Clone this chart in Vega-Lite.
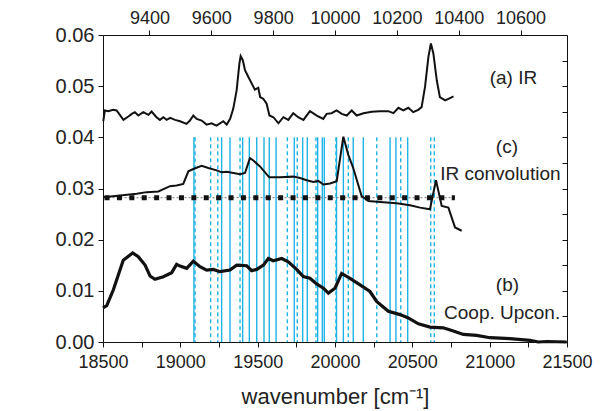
{
  "$schema": "https://vega.github.io/schema/vega-lite/v6.json",
  "width": 464,
  "height": 307,
  "autosize": {"type": "none"},
  "padding": {"left": 103, "top": 35, "right": 44, "bottom": 69},
  "background": "white",
  "config": {
    "view": {"stroke": null},
    "font": "Liberation Sans",
    "axis": {
      "domainColor": "#111",
      "tickColor": "#111",
      "labelColor": "#222",
      "titleColor": "#222",
      "labelFont": "Liberation Sans",
      "titleFont": "Liberation Sans",
      "labelFontSize": 18,
      "titleFontSize": 18,
      "titleFontWeight": "normal",
      "labelFlush": false,
      "labelOverlap": false,
      "grid": false,
      "domainWidth": 1,
      "tickWidth": 1
    },
    "axisLeft": {
      "title": "Cooperative upcon emission [a.u]",
      "titleFontSize": 19,
      "values": [0, 0.005, 0.01, 0.015, 0.02, 0.025, 0.03, 0.035, 0.04, 0.045, 0.05, 0.055, 0.06],
      "format": ".2f",
      "labelFontSize": 20,
      "labelExpr": "round(datum.value * 1000) % 10 === 0 ? datum.label : ''",
      "tickSize": 5,
      "labelPadding": 4,
      "titlePadding": 22
    }
  },
  "datasets": {
    "conv": [
      {"w": 18502, "v": 0.0283}, {"w": 18718, "v": 0.02897}, {"w": 18782, "v": 0.02929}, {"w": 18858, "v": 0.02942},
      {"w": 18933, "v": 0.03045}, {"w": 18976, "v": 0.03058}, {"w": 19019, "v": 0.0309}, {"w": 19052, "v": 0.03335},
      {"w": 19084, "v": 0.03381}, {"w": 19138, "v": 0.03445}, {"w": 19181, "v": 0.034}, {"w": 19235, "v": 0.03355},
      {"w": 19267, "v": 0.03316}, {"w": 19300, "v": 0.03329}, {"w": 19343, "v": 0.03303}, {"w": 19386, "v": 0.03277},
      {"w": 19418, "v": 0.03303}, {"w": 19450, "v": 0.03594}, {"w": 19472, "v": 0.03548}, {"w": 19515, "v": 0.03432},
      {"w": 19575, "v": 0.03219}, {"w": 19644, "v": 0.03219}, {"w": 19731, "v": 0.03232}, {"w": 19774, "v": 0.03206},
      {"w": 19817, "v": 0.03161}, {"w": 19860, "v": 0.03129}, {"w": 19892, "v": 0.03148}, {"w": 19925, "v": 0.03077},
      {"w": 19968, "v": 0.03097}, {"w": 20011, "v": 0.03142}, {"w": 20054, "v": 0.04013}, {"w": 20086, "v": 0.03658},
      {"w": 20118, "v": 0.034}, {"w": 20172, "v": 0.02852}, {"w": 20216, "v": 0.02755}, {"w": 20291, "v": 0.02735},
      {"w": 20399, "v": 0.0271}, {"w": 20485, "v": 0.02671}, {"w": 20550, "v": 0.02626}, {"w": 20614, "v": 0.02594},
      {"w": 20653, "v": 0.03161}, {"w": 20690, "v": 0.02658}, {"w": 20733, "v": 0.02626}, {"w": 20776, "v": 0.02239},
      {"w": 20819, "v": 0.02174}
    ],
    "coop": [
      {"w": 18500, "v": 0.00665}, {"w": 18524, "v": 0.0071}, {"w": 18567, "v": 0.0102}, {"w": 18631, "v": 0.016},
      {"w": 18692, "v": 0.0174}, {"w": 18728, "v": 0.01665}, {"w": 18772, "v": 0.01503}, {"w": 18804, "v": 0.0129},
      {"w": 18836, "v": 0.01226}, {"w": 18890, "v": 0.01277}, {"w": 18944, "v": 0.01355}, {"w": 18976, "v": 0.01516},
      {"w": 18998, "v": 0.01484}, {"w": 19041, "v": 0.01439}, {"w": 19084, "v": 0.01581}, {"w": 19127, "v": 0.01471},
      {"w": 19170, "v": 0.01406}, {"w": 19213, "v": 0.01419}, {"w": 19256, "v": 0.01374}, {"w": 19321, "v": 0.01406},
      {"w": 19364, "v": 0.01503}, {"w": 19429, "v": 0.0149}, {"w": 19461, "v": 0.01394}, {"w": 19494, "v": 0.01419},
      {"w": 19537, "v": 0.01503}, {"w": 19569, "v": 0.01632}, {"w": 19601, "v": 0.01587}, {"w": 19655, "v": 0.01632},
      {"w": 19698, "v": 0.01568}, {"w": 19752, "v": 0.01419}, {"w": 19795, "v": 0.01277}, {"w": 19838, "v": 0.01245},
      {"w": 19881, "v": 0.01135}, {"w": 19925, "v": 0.01052}, {"w": 19957, "v": 0.00955}, {"w": 20000, "v": 0.01052},
      {"w": 20043, "v": 0.0134}, {"w": 20097, "v": 0.01245}, {"w": 20162, "v": 0.01116}, {"w": 20226, "v": 0.00987},
      {"w": 20269, "v": 0.00794}, {"w": 20345, "v": 0.006}, {"w": 20420, "v": 0.00535}, {"w": 20474, "v": 0.00471},
      {"w": 20539, "v": 0.00355}, {"w": 20614, "v": 0.0029}, {"w": 20700, "v": 0.00277}, {"w": 20765, "v": 0.00213},
      {"w": 20830, "v": 0.00148}, {"w": 20916, "v": 0.00129}, {"w": 21002, "v": 0.00084}, {"w": 21131, "v": 0.00065},
      {"w": 21261, "v": 0.00032}, {"w": 21315, "v": 0.0}, {"w": 21369, "v": 0.0001}, {"w": 21498, "v": 0.0}
    ],
    "ir": [
      {"ir": 9251, "v": 0.04315}, {"ir": 9256, "v": 0.04525}, {"ir": 9267, "v": 0.04511}, {"ir": 9283, "v": 0.04538},
      {"ir": 9294, "v": 0.04525}, {"ir": 9316, "v": 0.04341}, {"ir": 9332, "v": 0.04407}, {"ir": 9343, "v": 0.04459},
      {"ir": 9353, "v": 0.04492}, {"ir": 9364, "v": 0.04426}, {"ir": 9380, "v": 0.04492}, {"ir": 9397, "v": 0.04439},
      {"ir": 9407, "v": 0.04505}, {"ir": 9423, "v": 0.04393}, {"ir": 9434, "v": 0.04341}, {"ir": 9445, "v": 0.04393},
      {"ir": 9456, "v": 0.04341}, {"ir": 9467, "v": 0.0438}, {"ir": 9483, "v": 0.04341}, {"ir": 9499, "v": 0.04315},
      {"ir": 9520, "v": 0.04262}, {"ir": 9531, "v": 0.04328}, {"ir": 9542, "v": 0.04426}, {"ir": 9553, "v": 0.04361},
      {"ir": 9569, "v": 0.04328}, {"ir": 9585, "v": 0.04249}, {"ir": 9601, "v": 0.04275}, {"ir": 9617, "v": 0.0423},
      {"ir": 9639, "v": 0.04315}, {"ir": 9650, "v": 0.04249}, {"ir": 9661, "v": 0.04361}, {"ir": 9671, "v": 0.04557},
      {"ir": 9682, "v": 0.04918}, {"ir": 9691, "v": 0.05443}, {"ir": 9695, "v": 0.05587}, {"ir": 9702, "v": 0.05508},
      {"ir": 9709, "v": 0.05311}, {"ir": 9720, "v": 0.0518}, {"ir": 9731, "v": 0.05049}, {"ir": 9741, "v": 0.04931},
      {"ir": 9752, "v": 0.0497}, {"ir": 9758, "v": 0.04787}, {"ir": 9768, "v": 0.04754}, {"ir": 9779, "v": 0.04656},
      {"ir": 9788, "v": 0.04426}, {"ir": 9801, "v": 0.04393}, {"ir": 9817, "v": 0.04275}, {"ir": 9833, "v": 0.04393},
      {"ir": 9849, "v": 0.04341}, {"ir": 9865, "v": 0.04472}, {"ir": 9881, "v": 0.04393}, {"ir": 9898, "v": 0.04341},
      {"ir": 9919, "v": 0.04511}, {"ir": 9941, "v": 0.04426}, {"ir": 9962, "v": 0.04361}, {"ir": 9973, "v": 0.04459},
      {"ir": 9989, "v": 0.04472}, {"ir": 10005, "v": 0.04525}, {"ir": 10022, "v": 0.04459}, {"ir": 10038, "v": 0.04426},
      {"ir": 10054, "v": 0.04525}, {"ir": 10070, "v": 0.04426}, {"ir": 10092, "v": 0.04472}, {"ir": 10119, "v": 0.04498},
      {"ir": 10145, "v": 0.04511}, {"ir": 10172, "v": 0.04511}, {"ir": 10189, "v": 0.04472}, {"ir": 10205, "v": 0.04577},
      {"ir": 10221, "v": 0.04525}, {"ir": 10237, "v": 0.04577}, {"ir": 10253, "v": 0.04492}, {"ir": 10269, "v": 0.04538},
      {"ir": 10280, "v": 0.0459}, {"ir": 10291, "v": 0.04984}, {"ir": 10302, "v": 0.05574}, {"ir": 10310, "v": 0.05836},
      {"ir": 10318, "v": 0.05639}, {"ir": 10329, "v": 0.05115}, {"ir": 10339, "v": 0.04787}, {"ir": 10356, "v": 0.04721},
      {"ir": 10372, "v": 0.04767}, {"ir": 10383, "v": 0.048}
    ],
    "lines": [
      {"w": 19088, "kind": "solid"}, {"w": 19095, "kind": "dashed"}, {"w": 19196, "kind": "dashed"}, {"w": 19242, "kind": "dashed"},
      {"w": 19267, "kind": "solid"}, {"w": 19321, "kind": "solid"}, {"w": 19386, "kind": "dashed"}, {"w": 19403, "kind": "solid"},
      {"w": 19446, "kind": "solid"}, {"w": 19494, "kind": "solid"}, {"w": 19541, "kind": "solid"}, {"w": 19575, "kind": "solid"},
      {"w": 19619, "kind": "solid"}, {"w": 19692, "kind": "dashed"}, {"w": 19737, "kind": "solid"}, {"w": 19756, "kind": "dashed"},
      {"w": 19791, "kind": "solid"}, {"w": 19821, "kind": "solid"}, {"w": 19877, "kind": "dashed"}, {"w": 19888, "kind": "solid"},
      {"w": 19918, "kind": "solid"}, {"w": 19931, "kind": "solid"}, {"w": 20006, "kind": "dashed"}, {"w": 20010, "kind": "solid"},
      {"w": 20054, "kind": "solid"}, {"w": 20086, "kind": "dashed"}, {"w": 20118, "kind": "solid"}, {"w": 20183, "kind": "solid"},
      {"w": 20270, "kind": "dashed"}, {"w": 20356, "kind": "solid"}, {"w": 20394, "kind": "solid"}, {"w": 20425, "kind": "dashed"},
      {"w": 20470, "kind": "solid"}, {"w": 20619, "kind": "dashed"}, {"w": 20642, "kind": "dashed"}
    ],
    "threshold": [{"w": 18510, "w2": 20775, "v": 0.0282}],
    "labels": [
      {"w": 21000, "v": 0.0516, "text": "(a) IR"},
      {"w": 21040, "v": 0.0382, "text": "(c)"},
      {"w": 20680, "v": 0.0329, "text": "IR convolution"},
      {"w": 21040, "v": 0.0112, "text": "(b)"},
      {"w": 20705, "v": 0.0057, "text": "Coop. Upcon."}
    ]
  },
  "layer": [
    {
      "encoding": {
        "x": {
          "field": "w", "type": "quantitative",
          "scale": {"domain": [18500, 21500], "nice": false, "zero": false},
          "axis": {
            "orient": "bottom",
            "title": "wavenumber [cm⁻¹]",
            "titleFontSize": 22,
            "values": [18500, 18750, 19000, 19250, 19500, 19750, 20000, 20250, 20500, 20750, 21000, 21250, 21500],
            "format": "d",
            "labelExpr": "datum.value % 500 === 0 ? datum.label : ''",
            "tickSize": 5,
            "labelPadding": 6,
            "titlePadding": 15
          }
        }
      },
      "layer": [
        {
          "data": {"name": "lines"},
          "transform": [{"filter": "datum.kind === 'solid'"}],
          "mark": {"type": "rule", "color": "#1db3e6", "strokeWidth": 1.4},
          "encoding": {
            "y": {"datum": 0.04, "type": "quantitative", "scale": {"domain": [0, 0.06], "nice": false, "zero": false}, "axis": {"orient": "left"}},
            "y2": {"datum": 0}
          }
        },
        {
          "data": {"name": "lines"},
          "transform": [{"filter": "datum.kind === 'dashed'"}],
          "mark": {"type": "rule", "color": "#1db3e6", "strokeWidth": 1.4, "strokeDash": [4, 3]},
          "encoding": {
            "y": {"datum": 0.04, "type": "quantitative", "scale": {"domain": [0, 0.06], "nice": false, "zero": false}, "axis": {"orient": "left"}},
            "y2": {"datum": 0}
          }
        },
        {
          "data": {"name": "threshold"},
          "mark": {"type": "rule", "color": "#777", "strokeWidth": 1, "strokeDash": [2, 2]},
          "encoding": {
            "x2": {"field": "w2"},
            "y": {"field": "v", "type": "quantitative", "scale": {"domain": [0, 0.06], "nice": false, "zero": false}, "axis": {"orient": "left"}}
          }
        },
        {
          "data": {"name": "threshold"},
          "mark": {"type": "rule", "color": "#111", "strokeWidth": 5, "strokeDash": [5, 7.4]},
          "encoding": {
            "x2": {"field": "w2"},
            "y": {"field": "v", "type": "quantitative", "scale": {"domain": [0, 0.06], "nice": false, "zero": false}, "axis": {"orient": "left"}}
          }
        },
        {
          "data": {"name": "conv"},
          "mark": {"type": "line", "color": "#111", "strokeWidth": 2},
          "encoding": {
            "y": {"field": "v", "type": "quantitative", "scale": {"domain": [0, 0.06], "nice": false, "zero": false}, "axis": {"orient": "left"}}
          }
        },
        {
          "data": {"name": "coop"},
          "mark": {"type": "line", "color": "#111", "strokeWidth": 3.2},
          "encoding": {
            "y": {"field": "v", "type": "quantitative", "scale": {"domain": [0, 0.06], "nice": false, "zero": false}, "axis": {"orient": "left"}}
          }
        },
        {
          "data": {"name": "labels"},
          "mark": {"type": "text", "align": "left", "baseline": "middle", "fontSize": 19, "font": "Liberation Sans", "color": "#222"},
          "encoding": {
            "y": {"field": "v", "type": "quantitative", "scale": {"domain": [0, 0.06], "nice": false, "zero": false}, "axis": {"orient": "left"}},
            "text": {"field": "text"}
          }
        }
      ],
      "resolve": {"scale": {"x": "shared", "y": "shared"}, "axis": {"x": "shared", "y": "shared"}}
    },
    {
      "data": {"name": "ir"},
      "mark": {"type": "line", "color": "#111", "strokeWidth": 2},
      "encoding": {
        "x": {
          "field": "ir", "type": "quantitative",
          "scale": {"domain": [9250, 10750], "nice": false, "zero": false},
          "axis": {
            "orient": "top",
            "title": null,
            "values": [9400, 9600, 9800, 10000, 10200, 10400, 10600],
            "format": "d",
            "tickSize": 5,
            "labelPadding": 3
          }
        },
        "y": {
          "field": "v", "type": "quantitative",
          "scale": {"domain": [0, 0.06], "nice": false, "zero": false},
          "axis": {
            "orient": "right",
            "title": null,
            "labels": false,
            "values": [0, 0.005, 0.01, 0.015, 0.02, 0.025, 0.03, 0.035, 0.04, 0.045, 0.05, 0.055, 0.06],
            "tickSize": -5
          }
        }
      }
    }
  ],
  "resolve": {"scale": {"x": "independent"}, "axis": {"y": "independent"}}
}
